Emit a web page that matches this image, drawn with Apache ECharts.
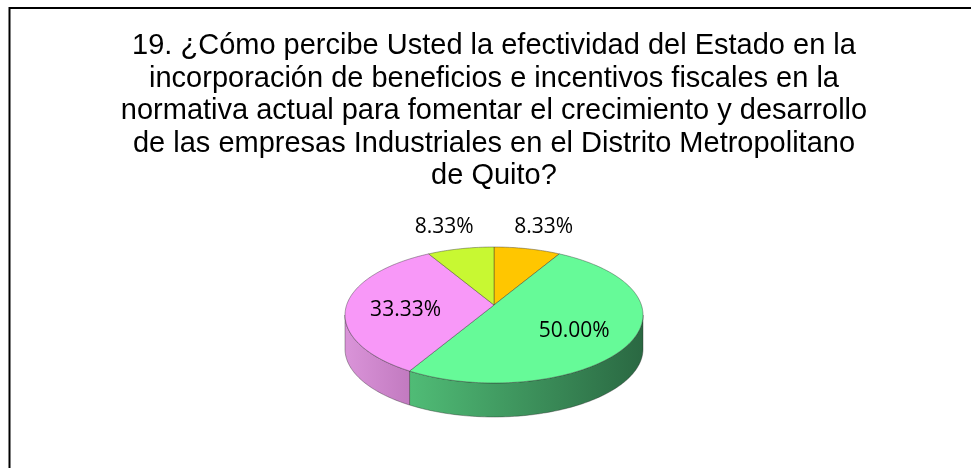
<!DOCTYPE html>
<html>
<head>
<meta charset="utf-8">
<script src="https://cdn.jsdelivr.net/npm/echarts@6/dist/echarts.min.js"></script>
<style>
  html, body { margin: 0; padding: 0; background: #fff; }
  #chart { width: 971px; height: 468px; }
</style>
</head>
<body>
<div id="chart"></div>
<script>
const titleLines = [
  "19. ¿Cómo percibe Usted la efectividad del Estado en la",
  "incorporación de beneficios e incentivos fiscales en la",
  "normativa actual para fomentar el crecimiento y desarrollo",
  "de las empresas Industriales en el Distrito Metropolitano",
  "de Quito?"
];
// slices clockwise from 12 o'clock
const sliceValues = [8.33, 50.00, 33.33, 8.33];
const topColors = ["#FFC600", "#66FA98", "#F898F8", "#C8F832"];
const sideColors = [
  ["#D9A800", "#B08800"],
  ["#50BC76", "#2A6842"],
  ["#DA94D9", "#C27AC0"],
  ["#A8D028", "#88A820"]
];

const total = sliceValues.reduce((a, b) => a + b, 0);

// ellipse of the top face, with a bit of perspective (center lifted)
const PIE = { cx: 494, cy: 315, rx: 149, ry: 68, lift: 10, depth: 34 };
const pe = -PIE.lift / PIE.ry;
const pa = PIE.rx * Math.sqrt(PIE.ry * PIE.ry - PIE.lift * PIE.lift) / PIE.ry;

// theta: clockwise from top, r: 0..1 on the disc
function project(theta, r, drop) {
  const u = r * Math.sin(theta);
  const v = -r * Math.cos(theta);
  const w = 1 + pe * v;
  return [PIE.cx + pa * u / w, PIE.cy + (PIE.ry * v - PIE.lift) / w + (drop || 0)];
}

function arc(a0, a1, drop) {
  const pts = [];
  const n = Math.max(2, Math.ceil((a1 - a0) / (Math.PI / 180)) + 1);
  for (let k = 0; k < n; k++) {
    pts.push(project(a0 + (a1 - a0) * k / (n - 1), 1, drop));
  }
  return pts;
}

function renderSlice(params, api) {
  const i = params.dataIndex;
  const val = api.value(0);
  let start = 0;
  for (let k = 0; k < i; k++) start += sliceValues[k];
  const a0 = start / total * Math.PI * 2;
  const a1 = (start + val) / total * Math.PI * 2;
  const children = [];

  // front wall, only the part facing us
  const lo = Math.acos(-PIE.lift / PIE.ry);
  const hi = Math.PI * 2 - lo;
  const s = Math.max(a0, lo), e = Math.min(a1, hi);
  if (s < e) {
    const topArc = arc(s, e, 0);
    const botArc = arc(s, e, PIE.depth).reverse();
    children.push({
      type: "polygon",
      z2: 1,
      shape: { points: topArc.concat(botArc) },
      style: {
        fill: {
          type: "linear", x: 0, y: 0, x2: 1, y2: 0,
          colorStops: [
            { offset: 0, color: sideColors[i][0] },
            { offset: 1, color: sideColors[i][1] }
          ]
        },
        stroke: "rgba(40,40,40,0.55)",
        lineWidth: 0.7
      }
    });
  }

  // top face
  children.push({
    type: "polygon",
    z2: 2,
    shape: { points: [project(0, 0)].concat(arc(a0, a1, 0)) },
    style: { fill: topColors[i], stroke: "rgba(50,50,50,0.6)", lineWidth: 0.7 }
  });

  // label: small slices outside, others inside
  const mid = (a0 + a1) / 2;
  const outside = val / total < 0.1;
  const lp = outside ? project(mid, 1.6) : project(mid, 0.6);
  children.push({
    type: "text",
    z2: 3,
    style: {
      text: val.toFixed(2) + "%",
      x: lp[0], y: lp[1] + (outside ? 6 : 5),
      fill: "#000",
      font: "21px 'Open Sans'",
      align: "center",
      verticalAlign: "middle"
    }
  });

  return { type: "group", children: children };
}

const chart = echarts.init(document.getElementById("chart"));
chart.setOption({
  backgroundColor: "#fff",
  animation: false,
  title: {
    text: titleLines.join("\n"),
    left: 494,
    top: 30,
    padding: 0,
    textAlign: "center",
    textStyle: {
      fontFamily: "Liberation Sans",
      fontSize: 29,
      lineHeight: 32.5,
      fontWeight: "normal",
      color: "#000"
    }
  },
  graphic: [{
    type: "polyline",
    shape: { points: [[9.5, 468], [9.5, 8], [971, 8]] },
    style: { stroke: "#000", lineWidth: 2, fill: null }
  }],
  series: [{
    type: "custom",
    coordinateSystem: "none",
    renderItem: renderSlice,
    data: sliceValues.map(v => [v])
  }]
});
</script>
</body>
</html>
